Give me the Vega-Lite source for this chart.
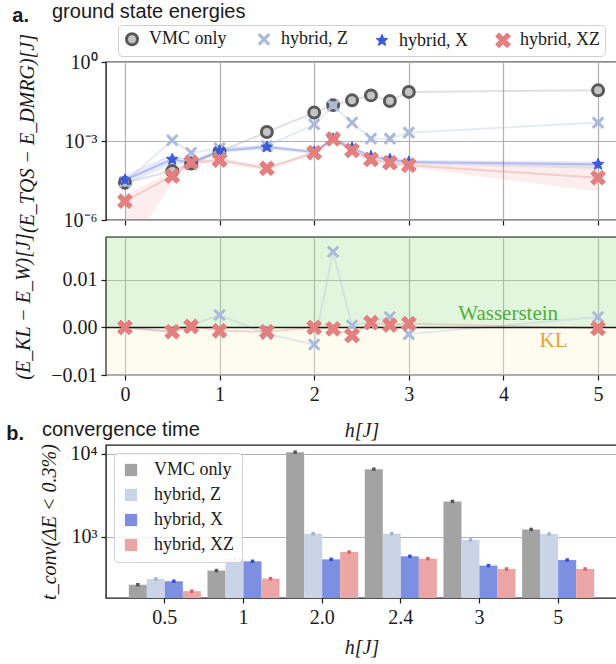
{
  "$schema": "https://vega.github.io/schema/vega-lite/v6.json",
  "background": "white",
  "padding": {"left": 6, "top": 0, "right": 0, "bottom": 0},
  "config": {
    "font": "Liberation Serif",
    "view": {"stroke": "#1a1a1a", "strokeWidth": 1.4},
    "axis": {"domain": false, "grid": true, "gridColor": "#b0b0b0", "gridWidth": 1.2, "tickColor": "#1a1a1a", "tickSize": 5, "tickWidth": 1.2, "labelFont": "Liberation Serif", "labelFontSize": 20, "labelColor": "#1a1a1a", "labelPadding": 4, "titleFont": "Liberation Serif", "titleFontSize": 20, "titleFontWeight": "normal", "titleFontStyle": "italic", "titleColor": "#1a1a1a"},
    "legend": {"labelFont": "Liberation Serif", "labelFontSize": 18, "labelColor": "#1a1a1a", "strokeColor": "#d0d0d0", "cornerRadius": 4, "fillColor": "white", "padding": 6, "layout": {"top": {"anchor": "middle"}}},
    "title": {"font": "Liberation Sans", "fontSize": 20, "fontWeight": "normal", "color": "#1a1a1a", "anchor": "start"}
  },
  "datasets": {
    "energies": [
      {"h": 0, "series": "VMC only", "v": 2.6e-5},
      {"h": 0.5, "series": "VMC only", "v": 7.2e-5},
      {"h": 0.7, "series": "VMC only", "v": 1.4e-4},
      {"h": 1, "series": "VMC only", "v": 3.9e-4},
      {"h": 1.5, "series": "VMC only", "v": 2.2e-3},
      {"h": 2, "series": "VMC only", "v": 1.2e-2},
      {"h": 2.2, "series": "VMC only", "v": 2.3e-2},
      {"h": 2.4, "series": "VMC only", "v": 3.5e-2},
      {"h": 2.6, "series": "VMC only", "v": 5.4e-2},
      {"h": 2.8, "series": "VMC only", "v": 3.3e-2},
      {"h": 3, "series": "VMC only", "v": 7.3e-2},
      {"h": 5, "series": "VMC only", "v": 8.4e-2},
      {"h": 0, "series": "hybrid, Z", "v": 2.8e-5},
      {"h": 0.5, "series": "hybrid, Z", "v": 1.07e-3},
      {"h": 0.7, "series": "hybrid, Z", "v": 3.6e-4},
      {"h": 1, "series": "hybrid, Z", "v": 5.3e-4},
      {"h": 1.5, "series": "hybrid, Z", "v": 6.5e-4},
      {"h": 2, "series": "hybrid, Z", "v": 4.3e-3},
      {"h": 2.2, "series": "hybrid, Z", "v": 2.2e-2},
      {"h": 2.4, "series": "hybrid, Z", "v": 5.0e-3},
      {"h": 2.6, "series": "hybrid, Z", "v": 1.23e-3},
      {"h": 2.8, "series": "hybrid, Z", "v": 1.23e-3},
      {"h": 3, "series": "hybrid, Z", "v": 2.08e-3},
      {"h": 5, "series": "hybrid, Z", "v": 5.0e-3},
      {"h": 0, "series": "hybrid, X", "v": 3.3e-5, "lo": 2.2e-5, "hi": 5e-5},
      {"h": 0.5, "series": "hybrid, X", "v": 2.0e-4, "lo": 1.3e-4, "hi": 3.2e-4},
      {"h": 0.7, "series": "hybrid, X", "v": 1.5e-4, "lo": 1.2e-4, "hi": 1.9e-4},
      {"h": 1, "series": "hybrid, X", "v": 4.2e-4, "lo": 3.5e-4, "hi": 5e-4},
      {"h": 1.5, "series": "hybrid, X", "v": 5.9e-4, "lo": 5e-4, "hi": 7e-4},
      {"h": 2, "series": "hybrid, X", "v": 3.8e-4, "lo": 3.2e-4, "hi": 4.5e-4},
      {"h": 2.2, "series": "hybrid, X", "v": 1.2e-3, "lo": 1.0e-3, "hi": 1.4e-3},
      {"h": 2.4, "series": "hybrid, X", "v": 5.5e-4, "lo": 4.6e-4, "hi": 6.5e-4},
      {"h": 2.6, "series": "hybrid, X", "v": 2.6e-4, "lo": 2.2e-4, "hi": 3.1e-4},
      {"h": 2.8, "series": "hybrid, X", "v": 2.0e-4, "lo": 1.7e-4, "hi": 2.4e-4},
      {"h": 3, "series": "hybrid, X", "v": 1.6e-4, "lo": 1.35e-4, "hi": 1.9e-4},
      {"h": 5, "series": "hybrid, X", "v": 1.3e-4, "lo": 8.6e-5, "hi": 1.7e-4},
      {"h": 0, "series": "hybrid, XZ", "v": 5.2e-6, "lo": 5e-8, "hi": 9e-6},
      {"h": 0.5, "series": "hybrid, XZ", "v": 4.7e-5, "lo": 2.5e-5, "hi": 7e-5},
      {"h": 0.7, "series": "hybrid, XZ", "v": 1.5e-4, "lo": 1.2e-4, "hi": 1.8e-4},
      {"h": 1, "series": "hybrid, XZ", "v": 1.9e-4, "lo": 1.55e-4, "hi": 2.3e-4},
      {"h": 1.5, "series": "hybrid, XZ", "v": 9.2e-5, "lo": 7.5e-5, "hi": 1.1e-4},
      {"h": 2, "series": "hybrid, XZ", "v": 3.6e-4, "lo": 3e-4, "hi": 4.3e-4},
      {"h": 2.2, "series": "hybrid, XZ", "v": 1.2e-3, "lo": 1.0e-3, "hi": 1.4e-3},
      {"h": 2.4, "series": "hybrid, XZ", "v": 4.4e-4, "lo": 3.7e-4, "hi": 5.2e-4},
      {"h": 2.6, "series": "hybrid, XZ", "v": 2.0e-4, "lo": 1.7e-4, "hi": 2.4e-4},
      {"h": 2.8, "series": "hybrid, XZ", "v": 1.5e-4, "lo": 1.25e-4, "hi": 1.8e-4},
      {"h": 3, "series": "hybrid, XZ", "v": 1.2e-4, "lo": 1.0e-4, "hi": 1.45e-4},
      {"h": 5, "series": "hybrid, XZ", "v": 4.0e-5, "lo": 1.2e-5, "hi": 1.3e-4}
    ],
    "diffs": [
      {"h": 0, "series": "hybrid, Z", "d": 0.0},
      {"h": 0.5, "series": "hybrid, Z", "d": -0.0009},
      {"h": 0.7, "series": "hybrid, Z", "d": 0.0005},
      {"h": 1, "series": "hybrid, Z", "d": 0.0026},
      {"h": 1.5, "series": "hybrid, Z", "d": -0.0014},
      {"h": 2, "series": "hybrid, Z", "d": -0.0036},
      {"h": 2.2, "series": "hybrid, Z", "d": 0.0159},
      {"h": 2.4, "series": "hybrid, Z", "d": 0.0004},
      {"h": 2.6, "series": "hybrid, Z", "d": 0.0012},
      {"h": 2.8, "series": "hybrid, Z", "d": 0.0022},
      {"h": 3, "series": "hybrid, Z", "d": -0.0014},
      {"h": 5, "series": "hybrid, Z", "d": 0.0022},
      {"h": 0, "series": "hybrid, XZ", "d": 0.0},
      {"h": 0.5, "series": "hybrid, XZ", "d": -0.0009},
      {"h": 0.7, "series": "hybrid, XZ", "d": 0.0002},
      {"h": 1, "series": "hybrid, XZ", "d": -0.0007},
      {"h": 1.5, "series": "hybrid, XZ", "d": -0.0009},
      {"h": 2, "series": "hybrid, XZ", "d": 0.0},
      {"h": 2.2, "series": "hybrid, XZ", "d": -0.0003},
      {"h": 2.4, "series": "hybrid, XZ", "d": -0.0017},
      {"h": 2.6, "series": "hybrid, XZ", "d": 0.001},
      {"h": 2.8, "series": "hybrid, XZ", "d": 0.0005},
      {"h": 3, "series": "hybrid, XZ", "d": 0.0008},
      {"h": 5, "series": "hybrid, XZ", "d": -0.0002}
    ],
    "bars": [
      {"h": "0.5", "series": "VMC only", "t": 263},
      {"h": "0.5", "series": "hybrid, Z", "t": 309},
      {"h": "0.5", "series": "hybrid, X", "t": 290},
      {"h": "0.5", "series": "hybrid, XZ", "t": 220},
      {"h": "1", "series": "VMC only", "t": 390},
      {"h": "1", "series": "hybrid, Z", "t": 543},
      {"h": "1", "series": "hybrid, X", "t": 505},
      {"h": "1", "series": "hybrid, XZ", "t": 312},
      {"h": "2.0", "series": "VMC only", "t": 10500},
      {"h": "2.0", "series": "hybrid, Z", "t": 1087},
      {"h": "2.0", "series": "hybrid, X", "t": 533},
      {"h": "2.0", "series": "hybrid, XZ", "t": 653},
      {"h": "2.4", "series": "VMC only", "t": 6530},
      {"h": "2.4", "series": "hybrid, Z", "t": 1087},
      {"h": "2.4", "series": "hybrid, X", "t": 580},
      {"h": "2.4", "series": "hybrid, XZ", "t": 543},
      {"h": "3", "series": "VMC only", "t": 2670},
      {"h": "3", "series": "hybrid, Z", "t": 912},
      {"h": "3", "series": "hybrid, X", "t": 448},
      {"h": "3", "series": "hybrid, XZ", "t": 408},
      {"h": "5", "series": "VMC only", "t": 1225},
      {"h": "5", "series": "hybrid, Z", "t": 1077},
      {"h": "5", "series": "hybrid, X", "t": 523},
      {"h": "5", "series": "hybrid, XZ", "t": 408}
    ]
  },
  "spacing": -23,
  "resolve": {"scale": {"color": "independent", "fill": "independent", "stroke": "independent", "shape": "independent", "size": "independent", "strokeWidth": "independent"}},
  "vconcat": [
    {
      "title": {"text": "a.", "fontWeight": "bold", "offset": -25},
      "spacing": -3,
      "resolve": {"scale": {"color": "independent", "fill": "independent", "stroke": "independent", "shape": "independent", "size": "independent", "strokeWidth": "independent"}},
      "vconcat": [
        {
          "width": 511,
          "height": 158,
          "title": {"text": "ground state energies", "offset": 3, "dx": 35},
          "data": {"name": "energies"},
          "encoding": {
            "x": {"field": "h", "type": "quantitative", "scale": {"domain": [-0.2, 5.2], "nice": false, "zero": false}, "axis": {"values": [0, 1, 2, 3, 4, 5], "labels": false, "title": null}}
          },
          "layer": [
            {
              "transform": [{"filter": "isValid(datum.lo)"}],
              "mark": {"type": "area", "opacity": 0.13, "clip": true},
              "encoding": {
                "y": {"field": "lo", "type": "quantitative", "stack": null, "scale": {"type": "log", "domain": [1e-6, 1], "nice": false}, "axis": {"values": [1e-6, 0.001, 1], "labelExpr": "datum.value > 0.5 ? '10⁰' : (datum.value > 0.0005 ? '10⁻³' : '10⁻⁶')", "title": "(E_TQS − E_DMRG)[J]", "titleX": -69, "titleY": 71, "titleAngle": 270, "titleBaseline": "bottom", "titleAlign": "center"}},
                "y2": {"field": "hi"},
                "color": {"field": "series", "type": "nominal", "scale": {"domain": ["hybrid, XZ", "hybrid, X", "hybrid, Z", "VMC only"], "range": ["#e47f7f", "#3b5bdb", "#aab9dc", "#9a9a9a"]}, "legend": null}
              }
            },
            {
              "mark": {"type": "line", "strokeWidth": 2, "opacity": 0.3},
              "encoding": {
                "y": {"field": "v", "type": "quantitative", "scale": {"type": "log", "domain": [1e-6, 1], "nice": false}, "axis": {"values": [1e-6, 0.001, 1], "labelExpr": "datum.value > 0.5 ? '10⁰' : (datum.value > 0.0005 ? '10⁻³' : '10⁻⁶')", "title": "(E_TQS − E_DMRG)[J]", "titleX": -69, "titleY": 71, "titleAngle": 270, "titleBaseline": "bottom", "titleAlign": "center"}},
                "color": {"field": "series", "type": "nominal", "scale": {"domain": ["hybrid, XZ", "hybrid, X", "hybrid, Z", "VMC only"], "range": ["#e47f7f", "#3b5bdb", "#aab9dc", "#9a9a9a"]}, "legend": null}
              }
            },
            {
              "mark": {"type": "point", "opacity": 1},
              "encoding": {
                "y": {"field": "v", "type": "quantitative", "scale": {"type": "log", "domain": [1e-6, 1], "nice": false}, "axis": {"values": [1e-6, 0.001, 1], "labelExpr": "datum.value > 0.5 ? '10⁰' : (datum.value > 0.0005 ? '10⁻³' : '10⁻⁶')", "title": "(E_TQS − E_DMRG)[J]", "titleX": -69, "titleY": 71, "titleAngle": 270, "titleBaseline": "bottom", "titleAlign": "center"}},
                "shape": {"field": "series", "type": "nominal", "scale": {"domain": ["VMC only", "hybrid, Z", "hybrid, X", "hybrid, XZ"], "range": ["circle", "M-1,-1L1,1M-1,1L1,-1", "M0,-1L0.265,-0.364L0.951,-0.309L0.428,0.139L0.588,0.809L0,0.45L-0.588,0.809L-0.428,0.139L-0.951,-0.309L-0.265,-0.364Z", "M0.495,-0.919L0.919,-0.495L0.424,0L0.919,0.495L0.495,0.919L0,0.424L-0.495,0.919L-0.919,0.495L-0.424,0L-0.919,-0.495L-0.495,-0.919L0,-0.424Z"]}, "legend": {"orient": "top", "direction": "horizontal", "title": null, "offset": 6, "columnPadding": 25, "labelOffset": 8, "padding": 5}},
                "fill": {"field": "series", "type": "nominal", "scale": {"domain": ["VMC only", "hybrid, Z", "hybrid, X", "hybrid, XZ"], "range": ["#c4c4c4", "transparent", "#3b5bdb", "#e47f7f"]}, "legend": {"orient": "top", "direction": "horizontal", "title": null, "offset": 6, "columnPadding": 25, "labelOffset": 8, "padding": 5}},
                "stroke": {"field": "series", "type": "nominal", "scale": {"domain": ["VMC only", "hybrid, Z", "hybrid, X", "hybrid, XZ"], "range": ["#595959", "#aab9dc", "#3b5bdb", "#e47f7f"]}, "legend": {"orient": "top", "direction": "horizontal", "title": null, "offset": 6, "columnPadding": 25, "labelOffset": 8, "padding": 5}},
                "size": {"field": "series", "type": "nominal", "scale": {"type": "ordinal", "domain": ["VMC only", "hybrid, Z", "hybrid, X", "hybrid, XZ"], "range": [120, 110, 150, 260]}, "legend": {"orient": "top", "direction": "horizontal", "title": null, "offset": 6, "columnPadding": 25, "labelOffset": 8, "padding": 5}},
                "strokeWidth": {"field": "series", "type": "nominal", "scale": {"type": "ordinal", "domain": ["VMC only", "hybrid, Z", "hybrid, X", "hybrid, XZ"], "range": [3, 3, 1, 1]}, "legend": {"orient": "top", "direction": "horizontal", "title": null, "offset": 6, "columnPadding": 25, "labelOffset": 8, "padding": 5}}
              }
            }
          ]
        },
        {
          "width": 511,
          "height": 138,
          "layer": [
            {
              "data": {"values": [{"d": 0, "d2": 0.019, "zone": "W"}, {"d": -0.01, "d2": 0, "zone": "KL"}]},
              "mark": {"type": "rect", "opacity": 0.3},
              "encoding": {
                "y": {"field": "d", "type": "quantitative", "scale": {"domain": [-0.01, 0.019], "nice": false, "zero": false}, "axis": {"values": [-0.01, 0, 0.01], "format": ".2f", "title": "(E_KL − E_W)[J]", "titleX": -73, "titleAngle": 270, "titleBaseline": "bottom", "titleAlign": "center"}},
                "y2": {"field": "d2"},
                "fill": {"condition": {"test": "datum.zone === 'W'", "value": "rgb(158,225,142)"}, "value": "rgb(248,245,202)"}
              }
            },
            {
              "data": {"name": "diffs"},
              "mark": {"type": "line", "strokeWidth": 2, "opacity": 0.3},
              "encoding": {
                "x": {"field": "h", "type": "quantitative", "scale": {"domain": [-0.2, 5.2], "nice": false, "zero": false}, "axis": {"values": [0, 1, 2, 3, 4, 5], "format": "d", "title": "h[J]", "titlePadding": 16}},
                "y": {"field": "d", "type": "quantitative", "scale": {"domain": [-0.01, 0.019], "nice": false, "zero": false}, "axis": {"values": [-0.01, 0, 0.01], "format": ".2f", "title": "(E_KL − E_W)[J]", "titleX": -73, "titleAngle": 270, "titleBaseline": "bottom", "titleAlign": "center"}},
                "color": {"field": "series", "type": "nominal", "scale": {"domain": ["hybrid, Z", "hybrid, XZ"], "range": ["#aab9dc", "#e47f7f"]}, "legend": null}
              }
            },
            {
              "data": {"values": [{"d": 0}]},
              "mark": {"type": "rule", "color": "#1a1a1a", "strokeWidth": 1.5},
              "encoding": {
                "y": {"field": "d", "type": "quantitative", "scale": {"domain": [-0.01, 0.019], "nice": false, "zero": false}, "axis": {"values": [-0.01, 0, 0.01], "format": ".2f", "title": "(E_KL − E_W)[J]", "titleX": -73, "titleAngle": 270, "titleBaseline": "bottom", "titleAlign": "center"}}
              }
            },
            {
              "data": {"name": "diffs"},
              "mark": {"type": "point", "opacity": 1},
              "encoding": {
                "x": {"field": "h", "type": "quantitative", "scale": {"domain": [-0.2, 5.2], "nice": false, "zero": false}, "axis": {"values": [0, 1, 2, 3, 4, 5], "format": "d", "title": "h[J]", "titlePadding": 16}},
                "y": {"field": "d", "type": "quantitative", "scale": {"domain": [-0.01, 0.019], "nice": false, "zero": false}, "axis": {"values": [-0.01, 0, 0.01], "format": ".2f", "title": "(E_KL − E_W)[J]", "titleX": -73, "titleAngle": 270, "titleBaseline": "bottom", "titleAlign": "center"}},
                "shape": {"field": "series", "type": "nominal", "scale": {"domain": ["hybrid, Z", "hybrid, XZ"], "range": ["M-1,-1L1,1M-1,1L1,-1", "M0.495,-0.919L0.919,-0.495L0.424,0L0.919,0.495L0.495,0.919L0,0.424L-0.495,0.919L-0.919,0.495L-0.424,0L-0.919,-0.495L-0.495,-0.919L0,-0.424Z"]}, "legend": null},
                "fill": {"field": "series", "type": "nominal", "scale": {"domain": ["hybrid, Z", "hybrid, XZ"], "range": ["transparent", "#e47f7f"]}, "legend": null},
                "stroke": {"field": "series", "type": "nominal", "scale": {"domain": ["hybrid, Z", "hybrid, XZ"], "range": ["#aab9dc", "#e47f7f"]}, "legend": null},
                "size": {"field": "series", "type": "nominal", "scale": {"type": "ordinal", "domain": ["hybrid, Z", "hybrid, XZ"], "range": [110, 260]}, "legend": null},
                "strokeWidth": {"field": "series", "type": "nominal", "scale": {"type": "ordinal", "domain": ["hybrid, Z", "hybrid, XZ"], "range": [3, 1]}, "legend": null}
              }
            },
            {
              "data": {"values": [{"h": 4.05, "d": 0.0016, "label": "Wasserstein"}, {"h": 4.53, "d": -0.0041, "label": "KL"}]},
              "mark": {"type": "text", "fontSize": 21, "font": "Liberation Serif", "align": "center", "baseline": "alphabetic"},
              "encoding": {
                "x": {"field": "h", "type": "quantitative", "scale": {"domain": [-0.2, 5.2], "nice": false, "zero": false}, "axis": {"values": [0, 1, 2, 3, 4, 5], "format": "d", "title": "h[J]", "titlePadding": 16}},
                "y": {"field": "d", "type": "quantitative", "scale": {"domain": [-0.01, 0.019], "nice": false, "zero": false}, "axis": {"values": [-0.01, 0, 0.01], "format": ".2f", "title": "(E_KL − E_W)[J]", "titleX": -73, "titleAngle": 270, "titleBaseline": "bottom", "titleAlign": "center"}},
                "text": {"field": "label"},
                "color": {"condition": {"test": "datum.label === 'KL'", "value": "#e8a23b"}, "value": "#4caf3a"}
              }
            }
          ]
        }
      ]
    },
    {
      "title": {"text": "b.", "fontWeight": "bold", "offset": -25, "dx": -32},
      "vconcat": [
        {
          "width": 511,
          "height": 153,
          "title": {"text": "convergence time", "offset": 4, "dx": 3},
          "data": {"name": "bars"},
          "encoding": {
            "x": {"field": "h", "type": "ordinal", "sort": null, "scale": {"paddingInner": 0.084, "paddingOuter": 0.29}, "axis": {"labelAngle": 0, "title": "h[J]", "grid": false, "titlePadding": 10}},
            "xOffset": {"field": "series", "type": "nominal", "sort": ["VMC only", "hybrid, Z", "hybrid, X", "hybrid, XZ"], "scale": {"domain": ["VMC only", "hybrid, Z", "hybrid, X", "hybrid, XZ"], "paddingInner": 0, "paddingOuter": 0}},
            "y": {"field": "t", "type": "quantitative", "stack": null, "scale": {"type": "log", "domain": [182, 12800], "nice": false}, "axis": {"values": [1000, 10000], "labelExpr": "datum.value > 5000 ? '10⁴' : '10³'", "title": "t_conv(ΔE < 0.3%)", "titleX": -47, "titleAngle": 270, "titleBaseline": "bottom", "titleAlign": "center"}}
          },
          "layer": [
            {
              "mark": {"type": "bar"},
              "encoding": {
                "color": {"field": "series", "type": "nominal", "scale": {"domain": ["VMC only", "hybrid, Z", "hybrid, X", "hybrid, XZ"], "range": ["#a3a3a3", "#c9d5e6", "#7c8fe0", "#eba5a5"]}, "legend": {"orient": "top-left", "offset": 8, "title": null, "symbolType": "square", "symbolSize": 150, "rowPadding": 7, "labelOffset": 14, "padding": 8, "symbolStrokeWidth": 0, "fillColor": "rgba(255,255,255,0.85)"}}
              }
            },
            {
              "mark": {"type": "point", "shape": "square", "size": 12, "filled": true, "opacity": 1},
              "encoding": {
                "fill": {"field": "series", "type": "nominal", "scale": {"domain": ["VMC only", "hybrid, Z", "hybrid, X", "hybrid, XZ"], "range": ["#555555", "#9fb2d2", "#2f4fd0", "#e06060"]}, "legend": null}
              }
            }
          ]
        }
      ]
    }
  ]
}
